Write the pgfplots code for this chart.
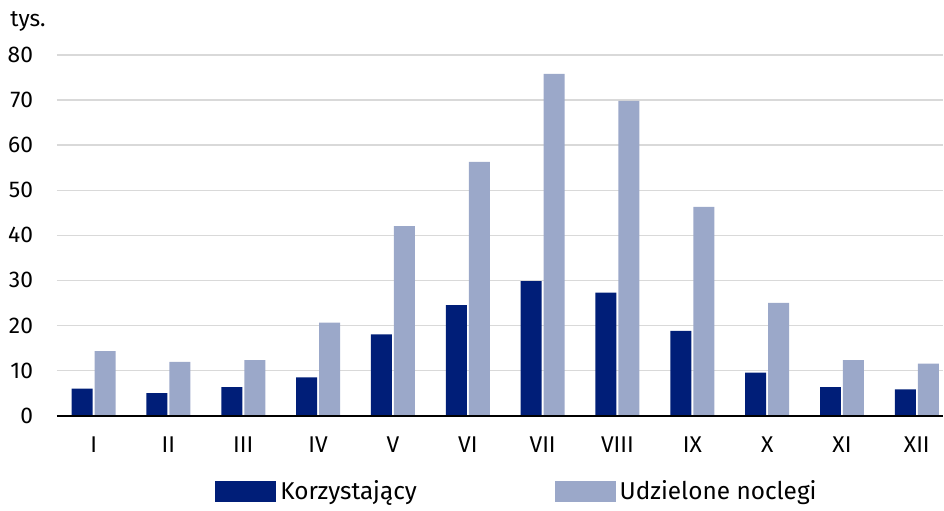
\documentclass[border=0pt]{standalone}
\usepackage{fontspec}
\setmainfont{Fira Sans}
\usepackage{pgfplots}
\pgfplotsset{compat=1.18}
\definecolor{darkb}{RGB}{0,30,120}
\definecolor{lightb}{RGB}{155,168,201}
\definecolor{gridc}{RGB}{217,217,217}
\begin{document}
\fontsize{11.4}{13.7}\selectfont
\begin{tikzpicture}
\begin{axis}[
  at={(0,0)}, anchor=south west,
  scale only axis,
  width=443.5pt, height=180.5pt,
  xmin=-0.49, xmax=11.35,
  ymin=0, ymax=80,
  ytick={0,10,...,80},
  xtick={0,...,11},
  xticklabels={I,II,III,IV,V,VI,VII,VIII,IX,X,XI,XII},
  ybar=1pt, bar width=10.5pt,
  major tick length=0pt,
  axis x line*=bottom, axis y line*=left,
  y axis line style={draw=none},
  x axis line style={draw=none},
  ymajorgrids, grid style={gridc, line width=0.65pt},
  /pgf/number format/assume math mode=true,
  ticklabel style={font=\fontsize{11.4}{13.7}\selectfont},
  yticklabel style={xshift=-8pt},
  xticklabel style={yshift=-6.7pt},
  legend style={draw=none, fill=none, at={(axis description cs:0.5,0)}, anchor=center, yshift=-38pt, xshift=9pt, font=\fontsize{12.2}{14.6}\selectfont, /tikz/every even column/.append style={column sep=67pt}},
  legend columns=2,
  legend image code/.code={\fill[#1] (0pt,-5.25pt) rectangle (30.5pt,5.25pt);},
  legend cell align=left,
  clip=false,
]
\addplot[fill=darkb, draw=none] coordinates {(0,6.0) (1,5.0) (2,6.3) (3,8.5) (4,18.0) (5,24.5) (6,29.8) (7,27.3) (8,18.8) (9,9.5) (10,6.3) (11,5.8)};
\addplot[fill=lightb, draw=none] coordinates {(0,14.3) (1,11.9) (2,12.3) (3,20.6) (4,42.0) (5,56.3) (6,75.8) (7,69.8) (8,46.3) (9,25.0) (10,12.3) (11,11.5)};
\legend{Korzystający, Udzielone noclegi}
\draw[black, line width=1pt] (rel axis cs:0,0) -- (rel axis cs:1,0);
\node[anchor=base west, inner sep=0pt, font=\fontsize{11.4}{13.7}\selectfont] at (rel axis cs:0,1) [xshift=-23.5pt, yshift=14pt] {tys.};
\end{axis}
\useasboundingbox (-28.5pt,-45pt) rectangle (443.5pt,208pt);
\end{tikzpicture}
\end{document}
